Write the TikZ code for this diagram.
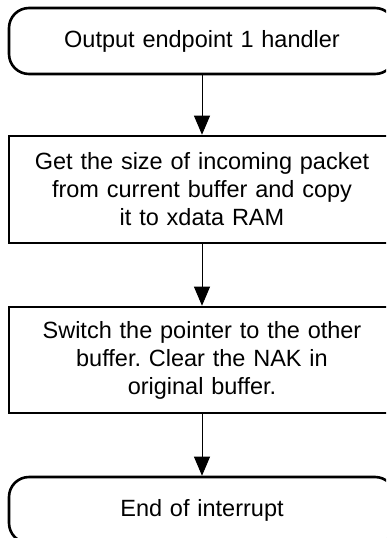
\documentclass[tikz,border=0pt]{standalone}
\usepackage{fontspec}
\setmainfont{Liberation Sans}
\usetikzlibrary{arrows.meta}
\frenchspacing
\begin{document}
\begin{tikzpicture}[x=1pt,y=-1pt,
  box/.style={draw, line width=2.6pt, minimum width=386pt, inner sep=0pt, text width=370pt, align=center,
    font=\fontsize{23.5}{28}\selectfont},
  term/.style={box, rounded corners=20pt},
  flow/.style={line width=0.9pt, -{Triangle[length=19pt,width=16pt]}}]
\useasboundingbox (0,0) rectangle (386,538);
\clip (0,0) rectangle (386,538);
\node[term, minimum height=66pt] (a) at (202,41) {Output endpoint 1 handler};
\node[box, minimum height=107pt] (b) at (202,189.5) {Get the size of incoming packet\\from current buffer and copy\\it to xdata RAM};
\node[box, minimum height=106pt] (c) at (202,360) {Switch the pointer to the other\\buffer. Clear the NAK in\\original buffer.};
\node[term, minimum height=66pt] (d) at (202,510) {End of interrupt};
\draw[flow] (a) -- (b);
\draw[flow] (b) -- (c);
\draw[flow] (c) -- (d);
\end{tikzpicture}
\end{document}
